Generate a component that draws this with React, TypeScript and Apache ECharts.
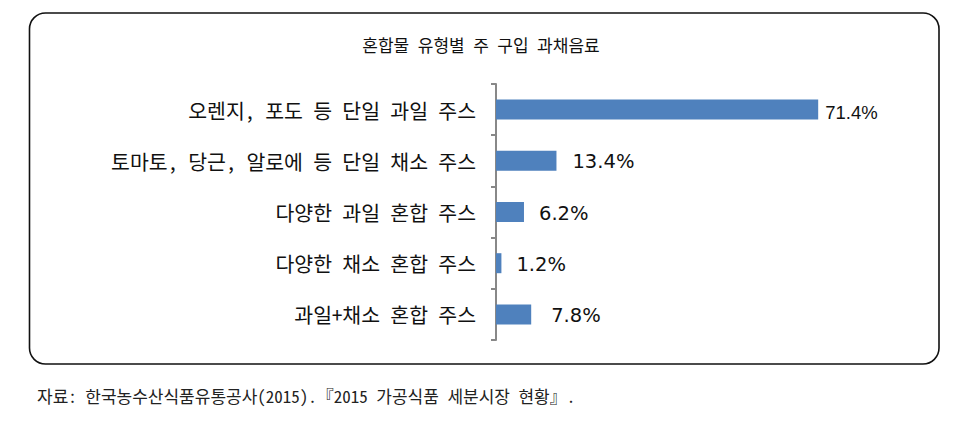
import React, { useEffect, useRef } from "react";
import * as echarts from "echarts";

const categories = [
  "오렌지, 포도 등 단일 과일 주스",
  "토마토, 당근, 알로에 등 단일 채소 주스",
  "다양한 과일 혼합 주스",
  "다양한 채소 혼합 주스",
  "과일+채소 혼합 주스",
];
const values = [71.4, 13.4, 6.2, 1.2, 7.8];
const titleText = "혼합물 유형별 주 구입 과채음료";
const sourceText = "자료: 한국농수산식품유통공사(2015).『2015 가공식품 세분시장 현황』.";

const labelGaps = [7, 16, 15, 15, 20];

export default function App() {
  const ref = useRef<HTMLDivElement>(null);
  useEffect(() => {
    document.body.style.margin = "0";
    const chart = echarts.init(ref.current!, null, { renderer: "svg" });
    const cjk = "'Noto Sans Mono CJK KR', 'Noto Sans CJK KR', sans-serif";
    chart.setOption({
      animation: false,
      backgroundColor: "#ffffff",
      graphic: [
        {
          type: "rect",
          shape: { x: 29.5, y: 13, width: 909.5, height: 351, r: 16 },
          style: { fill: "none", stroke: "#111", lineWidth: 1.6 },
          z: 0,
        },
        {
          type: "text",
          x: 481,
          y: 44,
          style: {
            text: titleText,
            font: "17px " + cjk,
            fill: "#111",
            align: "center",
            verticalAlign: "middle",
          },
        },
        {
          type: "text",
          x: 37,
          y: 395,
          style: {
            text: sourceText,
            font: "17px " + cjk,
            fill: "#222",
            align: "left",
            verticalAlign: "middle",
          },
        },
      ],
      grid: { left: 496, top: 84, width: 361, height: 256, containLabel: false },
      xAxis: {
        type: "value",
        min: 0,
        max: 80,
        show: false,
      },
      yAxis: {
        type: "category",
        data: categories,
        inverse: true,
        axisLine: { show: true, lineStyle: { color: "#888", width: 2 } },
        axisTick: { show: true, length: 5, lineStyle: { color: "#888", width: 2 } },
        axisLabel: {
          margin: 20,
          fontSize: 20.5,
          fontFamily: cjk,
          color: "#111",
        },
        splitLine: { show: false },
      },
      series: [
        {
          type: "bar",
          barWidth: 20,
          itemStyle: { color: "#4f81bd" },
          data: values.map((v, i) => ({
            value: v,
            label: {
              show: true,
              position: "right",
              distance: labelGaps[i],
              formatter: "{c}%",
              color: "#111",
              fontSize: i === 0 ? 18.5 : 19.5,
              fontFamily: i === 0 ? "'Liberation Sans', sans-serif" : "'DejaVu Sans', sans-serif",
              offset: i === 0 ? [0, 3] : [0, 1],
            },
          })),
        },
      ],
    });
    return () => chart.dispose();
  }, []);
  return (
    <div
      ref={ref}
      style={{ position: "absolute", left: 0, top: 0, width: 979, height: 424 }}
    />
  );
}
